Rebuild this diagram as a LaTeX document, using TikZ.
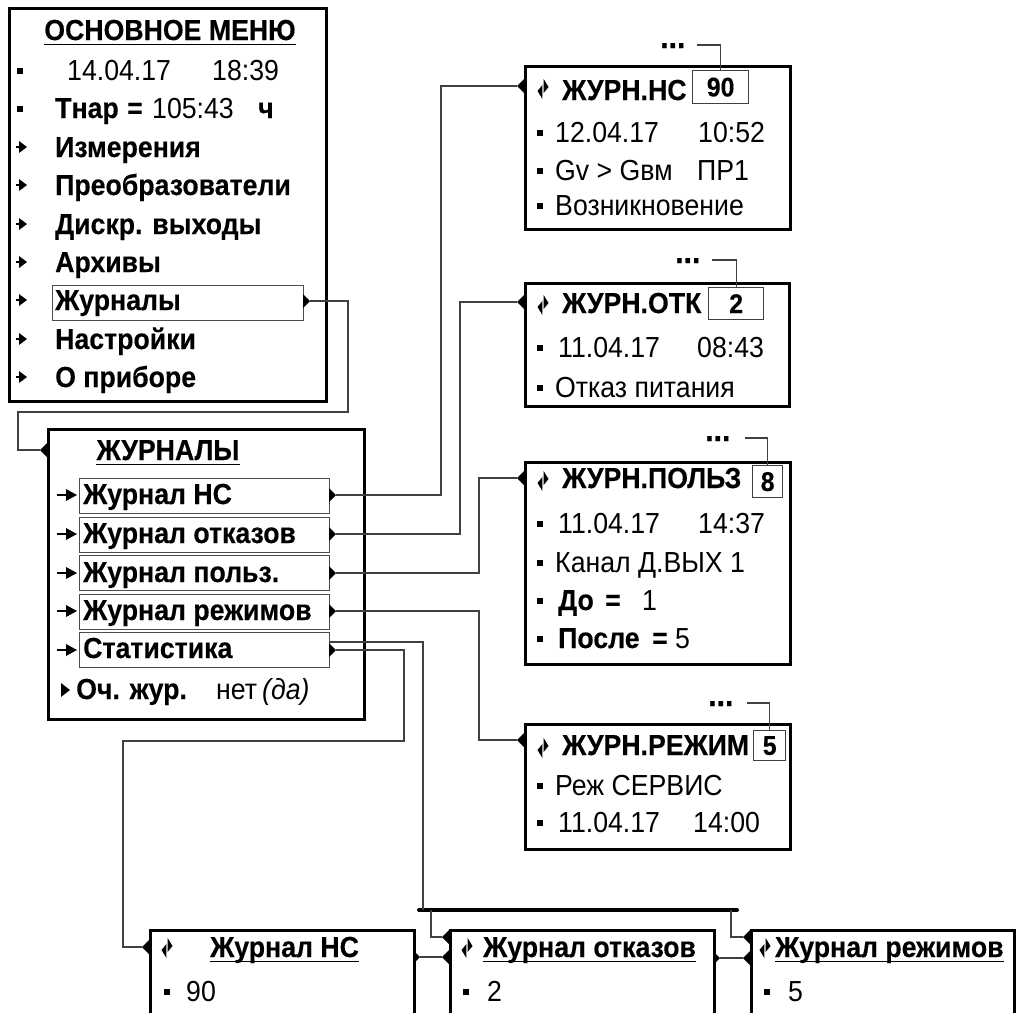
\documentclass[tikz,border=0pt]{standalone}
\usepackage{fontspec}
\setmainfont{Liberation Sans}[FakeStretch=0.92, BoldFeatures={FakeBold=0.3}]
\usetikzlibrary{calc}
\newcommand\fsz{\fontsize{29}{34}\selectfont}
\newcommand\fnum{\fontsize{27}{30}\selectfont\bfseries}
\newcommand\fdots{\fontsize{33}{36}\selectfont\bfseries}
\newcommand\blt[2]{\fill (#1-3,#2-3) rectangle (#1+3,#2+3);}
\newcommand\marr[2]{\draw[line width=2.5pt] (#1,#2) -- (#1+5,#2); \fill (#1+3,#2-6) -- (#1+11,#2) -- (#1+3,#2+6) -- cycle;}
\newcommand\larr[2]{\draw[line width=2.6pt] (#1,#2) -- (#1+11,#2); \fill (#1+9,#2-6) -- (#1+20,#2) -- (#1+9,#2+6) -- cycle;}
\newcommand\updn[2]{\fill (#1+0.6,#2-10) -- (#1+5.5,#2-2) -- (#1+0.6,#2+4) -- cycle; \fill (#1-0.6,#2-4) -- (#1-5.5,#2+2) -- (#1-0.6,#2+10) -- cycle;}
\newcommand\portR[3]{\fill (#1,#2-7) -- (#1+7,#2) -- (#1,#2+7) -- cycle; \coordinate (#3) at (#1+7,#2);}
\newcommand\portL[3]{\fill (#1,#2-7) -- (#1-7,#2) -- (#1,#2+7) -- cycle; \coordinate (#3) at (#1-7,#2);}
\newcommand\uline[1]{\draw[line width=1.8pt] ([yshift=-4.5pt]#1.base west) -- ([yshift=-4.5pt]#1.base east);}
\tikzset{
 bigbox/.style={draw, line width=3pt, inner sep=0, anchor=north west},
 midbox/.style={draw, line width=2.6pt, inner sep=0, anchor=north west},
 itembox/.style={draw=black!70, line width=1.2pt, inner sep=0, anchor=north west},
 numbox/.style={draw=black!75, line width=1.3pt, inner sep=0, anchor=north west, font=\fnum},
 conn/.style={draw=black!75, line width=1.2pt},
 bus/.style={line width=4pt, line cap=round},
 tx/.style={anchor=base west, inner sep=0, font=\fsz},
 bx/.style={anchor=base west, inner sep=0, font=\fsz\bfseries},
 dots/.style={anchor=base west, inner sep=0, font=\fdots},
}
\begin{document}
\begin{tikzpicture}[x=1pt,y=-1pt]
\useasboundingbox (0,0) rectangle (1016,1012);
\clip (0,0) rectangle (1016,1012);
\fill[white] (0,0) rectangle (1016,1012);

% ---------- main menu ----------
\node[bigbox, minimum width=317pt, minimum height=393pt] (mm) at (8,7) {};
\node[bx, anchor=base] (mmT) at (170,40) {ОСНОВНОЕ МЕНЮ}; \uline{mmT}
\blt{20}{71} \node[tx] (mmD) at (67,80) {14.04.17}; \node[tx] (mmTm) at (212,80) {18:39};
\blt{20}{109} \node[bx] (mmTn) at (55,118) {Тнар}; \node[bx] (mmEq) at (127,118) {=};
\node[tx] (mmTv) at (152,118) {105:43}; \node[bx] (mmTh) at (258,118) {ч};
\marr{16}{147} \node[bx] (mm1) at (55,157) {Измерения};
\marr{16}{185} \node[bx] (mm2) at (55,195) {Преобразователи};
\marr{16}{224} \node[bx] (mm3) at (55,234) {Дискр. выходы};
\marr{16}{262} \node[bx] (mm4) at (55,272) {Архивы};
\node[itembox, minimum width=251pt, minimum height=35pt] (mmJ) at (52,285) {};
\marr{16}{300} \node[bx] (mm5) at (55,310) {Журналы};
\marr{16}{339} \node[bx] (mm6) at (55,349) {Настройки};
\marr{16}{377} \node[bx] (mm7) at (55,387) {О приборе};
\portR{303}{301}{mmJp}

% ---------- ЖУРНАЛЫ ----------
\node[bigbox, minimum width=316pt, minimum height=290pt] (jb) at (47,428) {};
\portL{47}{450}{jbIn}
\draw[conn] (mmJp) -| (348,412) -| (18,450) -- (jbIn);
\node[bx, anchor=base] (jbT) at (168,460) {ЖУРНАЛЫ}; \uline{jbT}
\node[itembox, minimum width=250pt, minimum height=35pt] (jI1) at (79,478) {};
\node[itembox, minimum width=250pt, minimum height=35pt] (jI2) at (79,516.5) {};
\node[itembox, minimum width=250pt, minimum height=35pt] (jI3) at (79,555) {};
\node[itembox, minimum width=250pt, minimum height=35pt] (jI4) at (79,593.5) {};
\node[itembox, minimum width=250pt, minimum height=35pt] (jI5) at (79,632) {};
\larr{57}{495} \node[bx] (jt1) at (83,504) {Журнал НС};
\larr{57}{534} \node[bx] (jt2) at (83,543) {Журнал отказов};
\larr{57}{573} \node[bx] (jt3) at (83,582) {Журнал польз.};
\larr{57}{611} \node[bx] (jt4) at (83,620) {Журнал режимов};
\larr{57}{650} \node[bx] (jt5) at (83,658) {Статистика};
\fill (61,683) -- (70,690) -- (61,697) -- cycle;
\node[bx] (jt6) at (76,699) {Оч. жур.};
\node[tx] (jt6a) at (216,699) {нет};
\node[tx] (jt6b) at (262,699) {\itshape (да)};
\portR{329}{495}{pJ1}
\portR{329}{534}{pJ2}
\portR{329}{573}{pJ3}
\portR{329}{611}{pJ4}
\portR{329}{650}{pJ5}
\coordinate (sA) at (329,642);

% ---------- ЖУРН.НС ----------
\node[midbox, minimum width=265pt, minimum height=163pt] (rNS) at (524,65) {};
\portL{524}{86}{inNS}
\updn{543}{89}
\node[bx] (hNS) at (562,100) {ЖУРН.НС};
\node[numbox, minimum width=56pt, minimum height=33pt] (nNS) at (692,70) {90};
\node[dots] (dtNS) at (660,48) {...};
\coordinate (dNS) at (697,45);
\draw[conn] (dNS) -| (nNS.north);
\blt{540}{133} \node[tx] at (555,142) {12.04.17}; \node[tx] at (698,142) {10:52};
\blt{540}{171} \node[tx] at (555,180) {Gv > Gвм}; \node[tx] at (697,180) {ПР1};
\blt{540}{206} \node[tx] at (555,215) {Возникновение};

% ---------- ЖУРН.ОТК ----------
\node[midbox, minimum width=264pt, minimum height=123pt] (rOTK) at (524,282) {};
\portL{524}{302}{inOTK}
\updn{543}{305}
\node[bx] (hOTK) at (562,313) {ЖУРН.ОТК};
\node[numbox, minimum width=55pt, minimum height=32pt] (nOTK) at (708,287) {2};
\node[dots] (dtOTK) at (675,263) {...};
\coordinate (dOTK) at (712,260);
\draw[conn] (dOTK) -| (nOTK.north);
\blt{540}{348} \node[tx] at (558,357) {11.04.17}; \node[tx] at (697,357) {08:43};
\blt{540}{388} \node[tx] at (555,397) {Отказ питания};

% ---------- ЖУРН.ПОЛЬЗ ----------
\node[midbox, minimum width=265pt, minimum height=202pt] (rPOL) at (524,461) {};
\portL{524}{478}{inPOL}
\updn{543}{481}
\node[bx] (hPOL) at (562,488) {ЖУРН.ПОЛЬЗ};
\node[numbox, minimum width=30pt, minimum height=32pt] (nPOL) at (752,465) {8};
\node[dots] (dtPOL) at (705,441) {...};
\coordinate (dPOL) at (745,438);
\draw[conn] (dPOL) -| (nPOL.north);
\blt{540}{524} \node[tx] at (558,533) {11.04.17}; \node[tx] at (698,533) {14:37};
\blt{540}{563} \node[tx] at (555,572) {Канал Д.ВЫХ 1};
\blt{540}{601} \node[bx] at (558,610) {До}; \node[bx] at (605,610) {=}; \node[tx] at (642,610) {1};
\blt{540}{639} \node[bx] at (558,648) {После}; \node[bx] at (652,648) {=}; \node[tx] at (675,648) {5};

% ---------- ЖУРН.РЕЖИМ ----------
\node[midbox, minimum width=265pt, minimum height=125pt] (rREZ) at (524,723) {};
\portL{524}{740}{inREZ}
\updn{543}{748}
\node[bx] (hREZ) at (562,755) {ЖУРН.РЕЖИМ};
\node[numbox, minimum width=32pt, minimum height=30pt] (nREZ) at (753,730) {5};
\node[dots] (dtREZ) at (708,706) {...};
\coordinate (dREZ) at (747,703);
\draw[conn] (dREZ) -| (nREZ.north);
\blt{540}{786} \node[tx] at (555,795) {Реж СЕРВИС};
\blt{540}{823} \node[tx] at (558,832) {11.04.17}; \node[tx] at (693,832) {14:00};

% ---------- connectors from ЖУРНАЛЫ ----------
\draw[conn] (pJ1) -| (441,86) -- (inNS);
\draw[conn] (pJ2) -| (460,302) -- (inOTK);
\draw[conn] (pJ3) -| (479,478) -- (inPOL);
\draw[conn] (pJ4) -| (479,740) -- (inREZ);

% ---------- bottom boxes ----------
\node[midbox, minimum width=264pt, minimum height=100pt] (bNS) at (149,929) {};
\node[midbox, minimum width=264pt, minimum height=100pt] (bOTK) at (449,929) {};
\node[midbox, minimum width=263pt, minimum height=100pt] (bREZ) at (750,929) {};
\portL{149}{947}{inNSb}
\portR{413}{957}{outNSb}
\portL{449}{937}{inOTKb1}
\portL{449}{957}{inOTKb2}
\portR{713}{958}{outOTKb}
\portL{750}{937}{inREZb1}
\portL{750}{958}{inREZb2}
\updn{167}{948} \node[bx] (tNSb) at (210,957) {Журнал НС}; \uline{tNSb}
\updn{467}{948} \node[bx] (tOTKb) at (483,957) {Журнал отказов}; \uline{tOTKb}
\updn{765}{948} \node[bx] (tREZb) at (775,957) {Журнал режимов}; \uline{tREZb}
\blt{167}{992} \node[tx] at (186,1001) {90};
\blt{466}{992} \node[tx] at (487,1001) {2};
\blt{767}{992} \node[tx] at (788,1001) {5};

% ---------- Статистика connectors ----------
\coordinate (busL) at (419,910);
\coordinate (busR) at (737,910);
\draw[bus] (busL) -- (busR);
\draw[conn] (sA) -| (423,910);
\draw[conn] (pJ5) -| (404,741) -| (123,947) -- (inNSb);
\draw[conn] (431,910) |- (inOTKb1);
\draw[conn] (731,910) |- (inREZb1);
\draw[conn] (outNSb) -- (inOTKb2);
\draw[conn] (outOTKb) -- (inREZb2);
\end{tikzpicture}
\end{document}
